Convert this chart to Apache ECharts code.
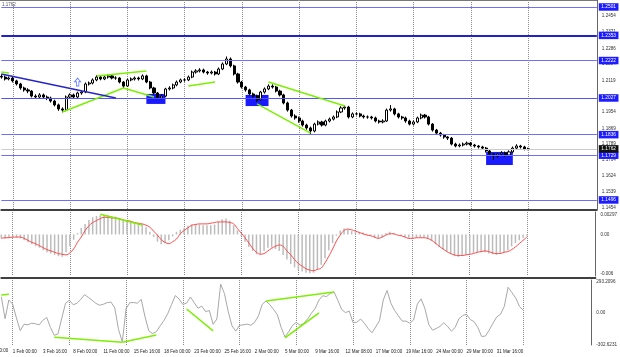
<!DOCTYPE html>
<html><head><meta charset="utf-8">
<script src="https://cdn.jsdelivr.net/npm/echarts@6/dist/echarts.min.js"></script>
<style>html,body{margin:0;padding:0;background:#fff;}#c{width:620px;height:357px;}</style>
</head><body><div id="c"></div>
<script>
// ---- data ----
const tickLabels = ["1 Feb 00:00","3 Feb 16:00","8 Feb 00:00","11 Feb 00:00","15 Feb 16:00","18 Feb 00:00","23 Feb 00:00","25 Feb 16:00","2 Mar 00:00","5 Mar 00:00","9 Mar 16:00","12 Mar 08:00","17 Mar 00:00","19 Mar 16:00","24 Mar 00:00","29 Mar 00:00","31 Mar 16:00"];

const opens = [1.2140,1.2136,1.2126,1.2131,1.2116,1.2100,1.2079,1.2069,1.2063,1.2037,
 1.2032,1.2043,1.2032,1.2027,1.2011,1.1991,1.1970,1.1964,1.2032,1.2043,
 1.2032,1.2053,1.2058,1.2100,1.2105,1.2121,1.2136,1.2126,1.2136,1.2142,
 1.2131,1.2131,1.2110,1.2089,1.2121,1.2126,1.2131,1.2126,1.2142,1.2110,
 1.2079,1.2053,1.2027,1.2037,1.2074,1.2079,1.2095,1.2110,1.2121,1.2121,
 1.2136,1.2162,1.2168,1.2173,1.2162,1.2157,1.2162,1.2152,1.2178,1.2204,
 1.2230,1.2194,1.2152,1.2110,1.2084,1.2069,1.2048,1.2037,1.2017,1.2058,
 1.2074,1.2089,1.2084,1.2063,1.2043,1.2001,1.1964,1.1933,1.1923,1.1907,
 1.1886,1.1871,1.1855,1.1891,1.1902,1.1886,1.1907,1.1917,1.1928,1.1954,
 1.1975,1.1980,1.1928,1.1944,1.1944,1.1933,1.1928,1.1928,1.1923,1.1907,
 1.1902,1.1907,1.1964,1.1970,1.1944,1.1928,1.1923,1.1907,1.1891,1.1902,
 1.1923,1.1938,1.1928,1.1891,1.1860,1.1844,1.1834,1.1824,1.1818,1.1787,
 1.1777,1.1782,1.1787,1.1792,1.1782,1.1777,1.1772,1.1766,1.1751,1.1735,
 1.1725,1.1735,1.1741,1.1730,1.1746,1.1766,1.1777,1.1772,1.1761];
const closes = [1.2136,1.2126,1.2131,1.2116,1.2100,1.2079,1.2069,1.2063,1.2037,1.2032,
 1.2043,1.2032,1.2027,1.2011,1.1991,1.1970,1.1964,1.2032,1.2043,1.2032,
 1.2053,1.2058,1.2100,1.2105,1.2121,1.2136,1.2126,1.2136,1.2142,1.2131,
 1.2131,1.2110,1.2089,1.2121,1.2126,1.2131,1.2126,1.2142,1.2110,1.2079,
 1.2053,1.2027,1.2037,1.2074,1.2079,1.2095,1.2110,1.2121,1.2121,1.2136,
 1.2162,1.2168,1.2173,1.2162,1.2157,1.2162,1.2152,1.2178,1.2204,1.2230,
 1.2194,1.2152,1.2110,1.2084,1.2069,1.2048,1.2037,1.2017,1.2058,1.2074,
 1.2089,1.2084,1.2063,1.2043,1.2001,1.1964,1.1933,1.1923,1.1907,1.1886,
 1.1871,1.1855,1.1891,1.1902,1.1886,1.1907,1.1917,1.1928,1.1954,1.1975,
 1.1980,1.1928,1.1944,1.1944,1.1933,1.1928,1.1928,1.1923,1.1907,1.1902,
 1.1907,1.1964,1.1970,1.1944,1.1928,1.1923,1.1907,1.1891,1.1902,1.1923,
 1.1938,1.1928,1.1891,1.1860,1.1844,1.1834,1.1824,1.1818,1.1787,1.1777,
 1.1782,1.1787,1.1792,1.1782,1.1777,1.1772,1.1766,1.1751,1.1735,1.1725,
 1.1735,1.1741,1.1730,1.1746,1.1766,1.1777,1.1772,1.1761,1.1762];
const lows = [1.2128,1.2118,1.2119,1.2108,1.2092,1.2070,1.2060,1.2052,1.2030,1.2022,
 1.2025,1.2024,1.2016,1.2003,1.1983,1.1960,1.1952,1.1958,1.2024,1.2025,
 1.2026,1.2044,1.2052,1.2092,1.2098,1.2114,1.2119,1.2120,1.2128,1.2124,
 1.2122,1.2103,1.2080,1.2085,1.2114,1.2118,1.2118,1.2120,1.2104,1.2072,
 1.2045,1.2023,1.2020,1.2032,1.2066,1.2072,1.2088,1.2104,1.2112,1.2115,
 1.2130,1.2154,1.2160,1.2155,1.2148,1.2150,1.2144,1.2146,1.2172,1.2198,
 1.2186,1.2144,1.2102,1.2076,1.2060,1.2040,1.2028,1.2007,1.2012,1.2050,
 1.2068,1.2076,1.2056,1.2035,1.1994,1.1956,1.1925,1.1914,1.1898,1.1878,
 1.1862,1.1836,1.1848,1.1884,1.1878,1.1880,1.1900,1.1910,1.1922,1.1948,
 1.1966,1.1920,1.1922,1.1936,1.1926,1.1920,1.1919,1.1915,1.1900,1.1894,
 1.1895,1.1902,1.1956,1.1936,1.1920,1.1914,1.1898,1.1884,1.1884,1.1896,
 1.1916,1.1920,1.1884,1.1852,1.1836,1.1826,1.1815,1.1808,1.1780,1.1770,
 1.1770,1.1775,1.1780,1.1775,1.1769,1.1764,1.1758,1.1743,1.1726,1.1704,
 1.1716,1.1726,1.1720,1.1724,1.1740,1.1760,1.1764,1.1754,1.1755];
const highs = [1.2150,1.2144,1.2139,1.2137,1.2122,1.2106,1.2086,1.2078,1.2068,1.2046,
 1.2052,1.2050,1.2040,1.2034,1.2018,1.1998,1.1978,1.2040,1.2051,1.2050,
 1.2060,1.2066,1.2108,1.2113,1.2129,1.2145,1.2143,1.2144,1.2150,1.2148,
 1.2140,1.2136,1.2115,1.2128,1.2134,1.2139,1.2138,1.2150,1.2148,1.2116,
 1.2085,1.2058,1.2045,1.2080,1.2088,1.2102,1.2118,1.2128,1.2130,1.2144,
 1.2170,1.2177,1.2182,1.2180,1.2168,1.2170,1.2168,1.2186,1.2212,1.2243,
 1.2238,1.2200,1.2158,1.2116,1.2090,1.2075,1.2055,1.2044,1.2064,1.2082,
 1.2098,1.2098,1.2090,1.2070,1.2049,1.2008,1.1970,1.1942,1.1930,1.1914,
 1.1893,1.1878,1.1898,1.1910,1.1908,1.1914,1.1925,1.1936,1.1962,1.1984,
 1.1990,1.1986,1.1952,1.1952,1.1950,1.1940,1.1936,1.1934,1.1930,1.1914,
 1.1916,1.1972,1.1990,1.1976,1.1950,1.1934,1.1930,1.1914,1.1910,1.1930,
 1.1946,1.1944,1.1934,1.1896,1.1866,1.1850,1.1840,1.1828,1.1824,1.1794,
 1.1790,1.1795,1.1800,1.1798,1.1788,1.1782,1.1778,1.1772,1.1756,1.1740,
 1.1742,1.1750,1.1748,1.1754,1.1774,1.1786,1.1783,1.1778,1.1768];

const macdHist = [-0.0006,-0.0006,-0.0005,-0.0005,-0.0005,-0.0006,-0.0009,-0.0012,-0.0015,-0.0018,
 -0.0020,-0.0024,-0.0027,-0.0029,-0.0031,-0.0033,-0.0034,-0.0027,-0.0018,-0.0008,
 0.0002,0.0010,0.0016,0.0022,0.0026,0.0028,0.0029,0.0029,0.0029,0.0028,
 0.0027,0.0025,0.0022,0.0021,0.0020,0.0018,0.0017,0.0015,0.0011,0.0004,
 -0.0004,-0.0011,-0.0015,-0.0013,-0.0009,-0.0003,0.0004,0.0007,0.0010,0.0013,
 0.0015,0.0016,0.0015,0.0014,0.0014,0.0014,0.0015,0.0019,0.0023,0.0024,
 0.0021,0.0014,0.0006,-0.0002,-0.0011,-0.0019,-0.0025,-0.0030,-0.0030,-0.0025,
 -0.0020,-0.0020,-0.0022,-0.0025,-0.0031,-0.0038,-0.0045,-0.0050,-0.0054,-0.0056,
 -0.0058,-0.0059,-0.0058,-0.0054,-0.0046,-0.0036,-0.0024,-0.0013,-0.0002,0.0006,
 0.0009,0.0007,0.0005,0.0004,0.0004,0.0003,0.0001,-0.0002,-0.0005,-0.0006,
 -0.0004,0.0002,0.0004,0.0002,0.0000,-0.0002,-0.0004,-0.0005,-0.0006,-0.0005,
 -0.0004,-0.0004,-0.0007,-0.0010,-0.0015,-0.0019,-0.0023,-0.0026,-0.0030,-0.0033,
 -0.0034,-0.0032,-0.0031,-0.0029,-0.0028,-0.0027,-0.0027,-0.0027,-0.0029,-0.0030,
 -0.0031,-0.0029,-0.0027,-0.0024,-0.0018,-0.0013,-0.0009,-0.0005,-0.0002];
const macdSignal = [-0.0006,-0.0005,-0.0005,-0.0004,-0.0004,-0.0004,-0.0006,-0.0009,-0.0012,-0.0014,
 -0.0017,-0.0020,-0.0023,-0.0025,-0.0027,-0.0029,-0.0030,-0.0031,-0.0028,-0.0022,
 -0.0012,-0.0004,0.0006,0.0013,0.0018,0.0021,0.0024,0.0026,0.0026,0.0025,
 0.0025,0.0024,0.0022,0.0021,0.0020,0.0018,0.0017,0.0016,0.0014,0.0011,
 0.0005,-0.0001,-0.0008,-0.0012,-0.0014,-0.0011,-0.0007,0.0001,0.0006,0.0010,
 0.0014,0.0015,0.0016,0.0016,0.0016,0.0017,0.0018,0.0019,0.0019,0.0019,
 0.0018,0.0016,0.0009,0.0002,-0.0005,-0.0013,-0.0021,-0.0027,-0.0030,-0.0029,
 -0.0025,-0.0021,-0.0018,-0.0016,-0.0018,-0.0025,-0.0031,-0.0038,-0.0044,-0.0048,
 -0.0052,-0.0054,-0.0055,-0.0053,-0.0051,-0.0043,-0.0033,-0.0022,-0.0010,-0.0001,
 0.0006,0.0008,0.0007,0.0005,0.0003,0.0001,-0.0001,-0.0002,-0.0004,-0.0006,
 -0.0004,-0.0001,0.0001,0.0001,-0.0001,-0.0002,-0.0004,-0.0006,-0.0006,-0.0005,
 -0.0005,-0.0005,-0.0006,-0.0009,-0.0013,-0.0018,-0.0022,-0.0026,-0.0029,-0.0031,
 -0.0032,-0.0032,-0.0031,-0.0030,-0.0029,-0.0027,-0.0026,-0.0025,-0.0026,-0.0028,
 -0.0029,-0.0029,-0.0027,-0.0026,-0.0023,-0.0019,-0.0014,-0.0009,-0.0004];
const cci = [150,-57,120,80,-50,-170,-110,-115,-100,-105,
 -115,-72,-45,-140,-215,-200,-50,90,118,75,
 88,125,170,145,118,88,70,80,95,100,
 45,-160,-275,40,95,95,90,125,-40,-172,
 -198,-180,-125,-75,-10,75,162,130,78,90,
 148,95,42,62,10,20,-110,-60,270,180,
 10,-125,-175,-120,-115,-108,-120,-90,-30,80,
 110,75,30,-20,-140,-230,-180,-120,-92,-120,
 -100,-60,-5,40,120,160,152,182,195,115,
 30,0,15,-95,-90,-60,-100,-150,-190,-135,
 -75,120,210,90,20,-30,-80,-80,-100,-70,
 80,130,40,-110,-165,-150,-130,-95,-130,-175,
 -140,-57,-28,-15,-65,-85,-140,-225,-222,-165,
 -100,-40,-15,60,240,190,140,60,22];

const priceTicks = [1.1454,1.1539,1.1624,1.1704,1.1789,1.1869,1.1954,1.2036,1.2119,1.2204,1.2286,1.2371,1.2454];
const macdTicks = [0.00297, 0, -0.006];
const macdTickText = ["0.00297","0.00","-0.006"];
const cciTicks = [293.2096, 0, -302.6231];
const cciTickText = ["293.2096","0.00","-302.6231"];

const levelValues = [1.2501, 1.2353, 1.2222, 1.2027, 1.1836, 1.1729, 1.1496];
const levelFibo = ["", "200.0", "", "161.8", "", "127.2", "100.0"];
const currentPrice = 1.1762;

// drawn objects, in data space [barIndex, value]
const greenPriceLines = [
  [[0,1.2162],[2.3,1.2157]],
  [[15.6,1.1954],[32.1,1.2079]],
  [[25.1,1.2142],[37.6,1.2168]],
  [[32.1,1.2079],[39.5,1.2032]],
  [[48.9,1.2089],[56.0,1.2110]],
  [[70.1,1.2110],[90.0,1.1985]],
  [[67.3,1.1996],[80.9,1.1844]]
];
const blueTrend = [[0,1.2152],[29.8,1.2027]];
const blueBoxes = [
  [[38.4,1.2048],[43.4,1.1996]],
  [[63.6,1.2043],[69.6,1.1985]],
  [[127,1.1746],[134.3,1.1678]]
];
const arrowPoint = [20.2, 1.2110];
const greenMacdLines = [[[25.9,0.00305],[37.2,0.00142]]];
const greenCciLines = [
  [[0,167],[2,174]],
  [[14.1,-233],[31.5,-280]],
  [[31.5,-280],[40.5,-211]],
  [[49,35],[56.2,-173]],
  [[69.9,111],[87.9,196]],
  [[74.8,-239],[84.3,-3]]
];

// ---- chart ----
const N = 157;
const firstLabelIdx = 3, labelStep = 8, gridStart = 3, gridStep = 15, lastGridIdx = 138;
const cats = Array.from({length: N}, (_, i) => String(i));
const FONT = 'Liberation Sans';

function labelAt(i) {
  if (i < firstLabelIdx || (i - firstLabelIdx) % labelStep) return null;
  const k = (i - firstLabelIdx) / labelStep;
  return k < tickLabels.length ? tickLabels[k] : null;
}
function isGrid(i) { return i >= gridStart && i <= lastGridIdx && (i - gridStart) % gridStep === 0; }

const candleData = opens.map((o, i) => [o, closes[i], lows[i], highs[i]]);

const seg = (pair, color, width) => [
  {coord: pair[0], lineStyle: {color: color, width: width, type: 'solid'}},
  {coord: pair[1]}
];
const GREEN = '#7cf000';

const mainMarkLines = [];
levelValues.forEach((v, k) => {
  mainMarkLines.push({
    yAxis: v,
    lineStyle: {color: k === 1 ? '#1f1fd6' : (k === 3 ? '#5252ff' : '#6f6fff'), width: k === 1 ? 2 : 1, type: 'solid'},
    label: {show: true, position: 'end', distance: 2, formatter: v.toFixed(4), color: '#fff',
      backgroundColor: '#1c1cff', fontSize: 4.8, fontFamily: FONT, padding: [1.5, 2.5, 1, 2.5]}
  });
  if (levelFibo[k]) {
    mainMarkLines.push({
      yAxis: v, lineStyle: {opacity: 0},
      label: {show: true, position: 'insideEndTop', distance: 0.5, formatter: levelFibo[k],
        color: '#7b7bff', fontSize: 4.6, fontFamily: FONT}
    });
  }
});
mainMarkLines.push({
  yAxis: currentPrice, lineStyle: {color: '#cccccc', width: 1, type: 'solid'},
  label: {show: true, position: 'end', distance: 2, formatter: currentPrice.toFixed(4), color: '#fff',
    backgroundColor: '#111', fontSize: 4.8, fontFamily: FONT, padding: [1.5, 2.5, 1, 2.5]}
});
greenPriceLines.forEach(p => mainMarkLines.push(seg(p, GREEN, 1.5)));
mainMarkLines.push(seg(blueTrend, '#2626c8', 1.5));

const xAxes = [0, 1, 2].map(g => ({
  type: 'category', gridIndex: g, data: cats, boundaryGap: false,
  offset: g === 0 ? 1 : (g === 1 ? 2 : 0),
  axisLine: {show: g < 2, onZero: false, lineStyle: {color: '#404040', width: 2}},
  axisTick: {show: false},
  axisLabel: g === 2 ? {
    show: true, interval: (i) => labelAt(i) !== null, formatter: (val, i) => labelAt(i) || '',
    align: 'left', fontSize: 4.5, fontFamily: FONT, color: '#222', margin: 4
  } : {show: false},
  splitLine: {show: true, interval: (i) => isGrid(i), lineStyle: {color: '#8a8a8a', type: 'dotted', width: 1}}
}));

const yCommon = {
  type: 'value', position: 'right',
  axisLine: {show: true, lineStyle: {color: '#666', width: 1}},
  axisTick: {show: false}, splitLine: {show: false}
};

const option = {
  animation: false,
  backgroundColor: '#fff',
  grid: [
    {left: 1.3, right: 23.2, top: 0, height: 209},
    {left: 1.3, right: 23.2, top: 212, height: 64},
    {left: 1.3, right: 23.2, top: 280, height: 65}
  ],
  xAxis: xAxes,
  yAxis: [
    Object.assign({}, yCommon, {gridIndex: 0, min: 1.14488, max: 1.25373,
      axisLabel: {customValues: priceTicks, formatter: v => v.toFixed(4), fontSize: 4.6, fontFamily: FONT, color: '#333', margin: 5}}),
    Object.assign({}, yCommon, {gridIndex: 1, min: -0.0063, max: 0.0034,
      axisLabel: {customValues: macdTicks, formatter: v => macdTickText[macdTicks.indexOf(v)] ?? String(v), fontSize: 4.6, fontFamily: FONT, color: '#333', margin: 5}}),
    Object.assign({}, yCommon, {gridIndex: 2, min: -306, max: 309,
      axisLabel: {customValues: cciTicks, formatter: v => cciTickText[cciTicks.indexOf(v)] ?? String(v), fontSize: 4.6, fontFamily: FONT, color: '#333', margin: 5}})
  ],
  series: [
    {
      type: 'candlestick', xAxisIndex: 0, yAxisIndex: 0, data: candleData, barWidth: 2.6,
      itemStyle: {color: '#fff', color0: '#000', borderColor: '#000', borderColor0: '#000', borderWidth: 1},
      markArea: {silent: true, itemStyle: {color: '#1a1aff', opacity: 1},
        data: blueBoxes.map(b => [{coord: b[0]}, {coord: b[1]}])},
      markLine: {silent: true, symbol: 'none', precision: 6, label: {show: false}, data: mainMarkLines}
    },
    {
      type: 'scatter', xAxisIndex: 0, yAxisIndex: 0, data: [arrowPoint], silent: true,
      symbol: 'path://M5,0 L10,5 L7,5 L7,11 L3,11 L3,5 L0,5 Z', symbolSize: [6, 8],
      itemStyle: {color: '#fff', borderColor: '#3d5cff', borderWidth: 0.9}
    },
    {
      type: 'bar', xAxisIndex: 1, yAxisIndex: 1, data: macdHist, barWidth: 1.5, silent: true,
      itemStyle: {color: '#bcbcbc'},
      markLine: {silent: true, symbol: 'none', precision: 6, label: {show: false},
        data: greenMacdLines.map(p => seg(p, GREEN, 1.5))}
    },
    {
      type: 'line', xAxisIndex: 1, yAxisIndex: 1, data: macdSignal, symbol: 'none', smooth: 0.4, silent: true,
      lineStyle: {color: '#ff4a4a', width: 1}
    },
    {
      type: 'line', xAxisIndex: 2, yAxisIndex: 2, data: cci, symbol: 'none', silent: true,
      lineStyle: {color: '#a8a8a8', width: 1},
      markLine: {silent: true, symbol: 'none', precision: 6, label: {show: false},
        data: greenCciLines.map(p => seg(p, GREEN, 1.5))}
    }
  ],
  graphic: [
    {type: 'line', shape: {x1: 0, y1: 0.5, x2: 597, y2: 0.5}, style: {stroke: '#777', lineWidth: 1}, silent: true},
    {type: 'text', left: 2, top: 2, style: {text: '1.1762', fontSize: 4.5, fontFamily: FONT, fill: '#555'}, silent: true},
    {type: 'text', x: -17.8, y: 348, style: {text: '29 Jan 00:00', fontSize: 4.5, fontFamily: FONT, fill: '#222'}, silent: true}
  ]
};

const chart = echarts.init(document.getElementById('c'));
chart.setOption(option);
</script>
</body></html>
